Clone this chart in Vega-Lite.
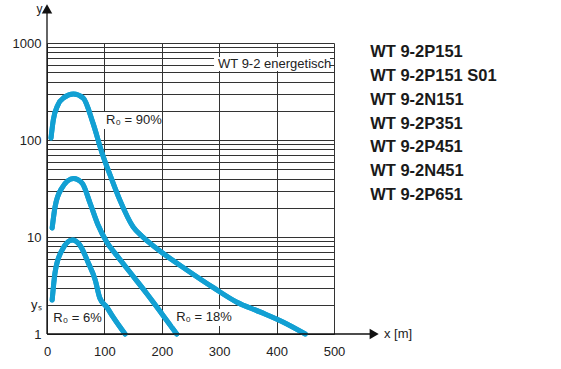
{
  "$schema": "https://vega.github.io/schema/vega-lite/v6.json",
  "width": 287,
  "height": 291,
  "autosize": {"type": "none"},
  "padding": {"left": 47, "top": 43, "right": 227, "bottom": 35},
  "background": "white",
  "config": {"view": {"stroke": null}, "font": "Liberation Sans"},
  "datasets": {
    "curves": [
      {"series": "90%", "x": 7, "y": 105}, {"series": "90%", "x": 11, "y": 161}, {"series": "90%", "x": 19, "y": 230}, {"series": "90%", "x": 30, "y": 275}, {"series": "90%", "x": 46, "y": 298}, {"series": "90%", "x": 63, "y": 271}, {"series": "90%", "x": 80, "y": 150}, {"series": "90%", "x": 96, "y": 73}, {"series": "90%", "x": 113, "y": 39}, {"series": "90%", "x": 127, "y": 24}, {"series": "90%", "x": 150, "y": 12.7}, {"series": "90%", "x": 167, "y": 10}, {"series": "90%", "x": 202, "y": 6.8}, {"series": "90%", "x": 243, "y": 4.6}, {"series": "90%", "x": 290, "y": 3.0}, {"series": "90%", "x": 330, "y": 2.14}, {"series": "90%", "x": 371, "y": 1.69}, {"series": "90%", "x": 411, "y": 1.33}, {"series": "90%", "x": 450, "y": 1},
      {"series": "18%", "x": 9, "y": 12.4}, {"series": "18%", "x": 14, "y": 20.4}, {"series": "18%", "x": 26, "y": 32}, {"series": "18%", "x": 46, "y": 40}, {"series": "18%", "x": 61, "y": 36}, {"series": "18%", "x": 75, "y": 22.4}, {"series": "18%", "x": 89, "y": 13.3}, {"series": "18%", "x": 104, "y": 8.9}, {"series": "18%", "x": 122, "y": 6.4}, {"series": "18%", "x": 147, "y": 4.15}, {"series": "18%", "x": 174, "y": 2.6}, {"series": "18%", "x": 200, "y": 1.62}, {"series": "18%", "x": 226, "y": 1},
      {"series": "6%", "x": 9, "y": 2.24}, {"series": "6%", "x": 14, "y": 4.3}, {"series": "6%", "x": 26, "y": 7.3}, {"series": "6%", "x": 44, "y": 9.3}, {"series": "6%", "x": 57, "y": 8.3}, {"series": "6%", "x": 72, "y": 5.4}, {"series": "6%", "x": 84, "y": 3.6}, {"series": "6%", "x": 92, "y": 2.35}, {"series": "6%", "x": 104, "y": 1.9}, {"series": "6%", "x": 115, "y": 1.5}, {"series": "6%", "x": 136, "y": 1}
    ],
    "labels": [
      {"text": "R₀ = 90%", "x": 103, "y": 160, "x0": 98, "x1": 197, "y0": 130, "y1": 194},
      {"text": "R₀ = 6%", "x": 11, "y": 1.46, "x0": 5, "x1": 96, "y0": 1.18, "y1": 1.77},
      {"text": "R₀ = 18%", "x": 225, "y": 1.5, "x0": 219, "x1": 322, "y0": 1.21, "y1": 1.81},
      {"text": "WT 9-2 energetisch", "x": 298, "y": 608, "x0": 291, "x1": 493, "y0": 514, "y1": 717}
    ],
    "models": [
      {"name": "WT 9-2P151", "y": 807},
      {"name": "WT 9-2P151 S01", "y": 457},
      {"name": "WT 9-2N151", "y": 258},
      {"name": "WT 9-2P351", "y": 146},
      {"name": "WT 9-2P451", "y": 84.7},
      {"name": "WT 9-2N451", "y": 47.9},
      {"name": "WT 9-2P651", "y": 27.1}
    ],
    "one": [{}]
  },
  "layer": [
    {
      "data": {"name": "curves"},
      "mark": {"type": "line", "interpolate": "monotone", "color": "#12a0d3", "strokeWidth": 5, "strokeCap": "round"},
      "encoding": {
        "x": {
          "field": "x", "type": "quantitative",
          "scale": {"domain": [0, 500], "nice": false, "zero": false},
          "axis": {
            "values": [0, 50, 100, 150, 200, 250, 300, 350, 400, 450, 500],
            "labelExpr": "datum.value % 100 == 0 ? datum.label : ''",
            "grid": true, "gridColor": "#333", "gridWidth": 1, "gridOpacity": 1,
            "domain": false, "ticks": false, "title": null,
            "labelFontSize": 13, "labelColor": "#222", "labelPadding": 11, "labelFont": "Liberation Sans", "labelFlush": false
          }
        },
        "y": {
          "field": "y", "type": "quantitative",
          "scale": {"type": "log", "domain": [1, 1000], "nice": false},
          "axis": {
            "values": [1, 2, 3, 4, 5, 6, 7, 8, 9, 10, 20, 30, 40, 50, 60, 70, 80, 90, 100, 200, 300, 400, 500, 600, 700, 800, 900, 1000],
            "format": "d",
            "labelExpr": "datum.value == 2 ? 'yₛ' : (datum.value == 1 || datum.value == 10 || datum.value == 100 || datum.value == 1000) ? datum.label : ''",
            "grid": true, "gridColor": "#333", "gridWidth": 1, "gridOpacity": 1,
            "domain": false, "ticks": false, "title": null,
            "labelFontSize": 13, "labelColor": "#222", "labelPadding": 6, "labelFont": "Liberation Sans", "labelFlush": false
          }
        },
        "detail": {"field": "series"}
      }
    },
    {
      "data": {"name": "labels"},
      "mark": {"type": "rect", "color": "white"},
      "encoding": {
        "x": {"field": "x0", "type": "quantitative"},
        "x2": {"field": "x1"},
        "y": {"field": "y0", "type": "quantitative"},
        "y2": {"field": "y1"}
      }
    },
    {
      "data": {"name": "curves"},
      "mark": {"type": "line", "interpolate": "monotone", "color": "#12a0d3", "strokeWidth": 5, "strokeCap": "round"},
      "encoding": {
        "x": {"field": "x", "type": "quantitative"},
        "y": {"field": "y", "type": "quantitative"},
        "detail": {"field": "series"}
      }
    },
    {
      "data": {"name": "labels"},
      "mark": {"type": "text", "align": "left", "baseline": "middle", "fontSize": 13, "color": "#222", "font": "Liberation Sans"},
      "encoding": {
        "x": {"field": "x", "type": "quantitative"},
        "y": {"field": "y", "type": "quantitative"},
        "text": {"field": "text"}
      }
    },
    {
      "data": {"name": "one"},
      "mark": {"type": "rule", "color": "#111", "strokeWidth": 1.3},
      "encoding": {
        "x": {"datum": 0},
        "x2": {"datum": 568},
        "y": {"datum": 1}
      }
    },
    {
      "data": {"name": "one"},
      "mark": {"type": "rule", "color": "#111", "strokeWidth": 1.3},
      "encoding": {
        "x": {"datum": 0},
        "y": {"datum": 1},
        "y2": {"datum": 2100}
      }
    },
    {
      "data": {"name": "one"},
      "mark": {"type": "point", "shape": "triangle-right", "filled": true, "color": "#111", "size": 110, "opacity": 1},
      "encoding": {
        "x": {"datum": 570},
        "y": {"datum": 1}
      }
    },
    {
      "data": {"name": "one"},
      "mark": {"type": "point", "shape": "triangle-up", "filled": true, "color": "#111", "size": 110, "opacity": 1},
      "encoding": {
        "x": {"datum": 0},
        "y": {"datum": 2250}
      }
    },
    {
      "data": {"name": "one"},
      "mark": {"type": "text", "text": "x [m]", "align": "left", "baseline": "middle", "fontSize": 13, "color": "#222"},
      "encoding": {
        "x": {"datum": 587},
        "y": {"datum": 1}
      }
    },
    {
      "data": {"name": "one"},
      "mark": {"type": "text", "text": "y", "align": "right", "baseline": "alphabetic", "fontSize": 12, "color": "#222"},
      "encoding": {
        "x": {"datum": -8},
        "y": {"datum": 2050}
      }
    },
    {
      "data": {"name": "models"},
      "mark": {"type": "text", "align": "left", "baseline": "middle", "fontSize": 16.5, "fontWeight": "bold", "color": "#1a1a1a", "font": "Liberation Sans"},
      "encoding": {
        "x": {"datum": 563},
        "y": {"field": "y", "type": "quantitative"},
        "text": {"field": "name"}
      }
    }
  ]
}
